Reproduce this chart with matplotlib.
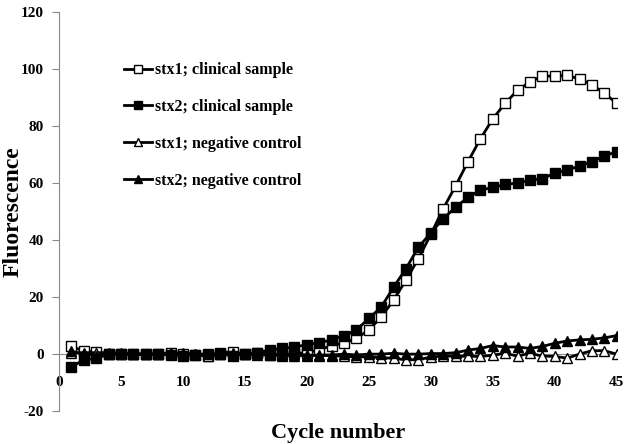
import numpy as np
import matplotlib
matplotlib.use("Agg")
import matplotlib.pyplot as plt

plt.rcParams['font.family'] = ['Liberation Serif', 'DejaVu Serif']
plt.rcParams['font.weight'] = 'bold'
plt.rcParams['axes.unicode_minus'] = False

cycles = list(range(1, 46))

stx1_clinical = [2.8, 1.0, 0.8, 0, 0, 0, 0, 0, 0.5, 0,
                 -0.3, -0.5, 0.5, 0.8, 0, 0.3, -0.3, -0.3, 0.3, 0.5,
                 1.5, 3, 4, 5.5, 8.5, 13, 19, 26, 33.5, 42,
                 51, 59, 67.5, 75.5, 82.5, 88, 92.5, 95.5, 97.5, 97.5,
                 97.8, 96.5, 94.5, 91.5, 88]
stx2_clinical = [-4.5, -2, -1.5, 0, 0, 0, 0, 0, -0.3, -0.5,
                 -0.3, 0, 0, -0.5, 0, 0.5, 1.5, 2, 2.5, 3.3,
                 4, 5, 6.5, 8.5, 12.5, 16.5, 23.5, 30, 37.5, 42.5,
                 47.5, 51.5, 55, 57.5, 58.5, 59.5, 60, 61, 61.5, 63.5,
                 64.5, 66, 67.5, 69.5, 71]
stx1_negative = [0.5, 0.5, 0.5, 0.5, 0.3, 0, 0, 0, 0.5, 0.3,
                 0, -0.8, 0, 0.3, 0, 0.5, 0, -0.2, 0, -0.3,
                 -0.5, -0.5, -0.8, -1, -1, -1.2, -1.5, -2, -2, -1,
                 -0.7, -0.7, -0.8, -0.8, -0.4, 0.3, -0.7, 0.3, -0.7, -0.8,
                 -1.4, 0, 1.2, 1.2, 0]
stx2_negative = [1, 0, -0.5, 0, 0, 0, 0, 0, 0, 0,
                 0, 0, 0, 0, 0, -0.3, -0.3, -0.5, -0.5, -0.5,
                 -0.3, -0.3, 0, -0.3, 0, 0, 0.3, 0, 0, 0.2,
                 0.2, 0.5, 1.4, 2, 3, 2.5, 2.5, 2, 2.7, 3.8,
                 4.6, 5, 5.2, 5.7, 6.5]

labels = ["stx1; clinical sample", "stx2; clinical sample",
          "stx1; negative control", "stx2; negative control"]

fig = plt.figure(figsize=(6.28, 4.44), dpi=100)
ax = fig.add_axes([0.094, 0.074, 0.888, 0.899])

ax.plot(cycles, stx1_clinical, color='black', lw=2, marker='s', ms=6.5,
        mfc='white', mec='black', mew=1, label=labels[0])
ax.plot(cycles, stx2_clinical, color='black', lw=2, marker='s', ms=6.5,
        mfc='black', mec='black', mew=1, label=labels[1])
ax.plot(cycles, stx1_negative, color='black', lw=2, marker='^', ms=6.5,
        mfc='white', mec='black', mew=1, label=labels[2])
ax.plot(cycles, stx2_negative, color='black', lw=2, marker='^', ms=6.5,
        mfc='black', mec='black', mew=1, label=labels[3])

ax.set_xlim(0, 45)
ax.set_ylim(-20, 120)
ax.set_xticks(range(0, 46, 5))
ax.set_yticks(range(-20, 121, 20))

ax.spines['top'].set_visible(False)
ax.spines['right'].set_visible(False)
ax.spines['bottom'].set_position(('data', 0))
ax.spines['bottom'].set_color('#888888')
ax.spines['left'].set_color('#888888')
ax.spines['bottom'].set_zorder(0)

ax.tick_params(axis='y', direction='out', length=5, color='#888888',
               labelsize=11, pad=6)
ax.tick_params(axis='x', length=0, labelsize=11, pad=16)
for t in ax.get_xticklabels() + ax.get_yticklabels():
    t.set_fontweight('bold')

ax.set_xlabel("Cycle number", fontsize=16, fontweight='bold')
ax.set_ylabel("Fluorescence", fontsize=17, fontweight='bold')
ax.xaxis.set_label_coords(0.5, -0.03)
ax.yaxis.set_label_coords(-0.064, 0.5)

leg = ax.legend(loc='upper left', bbox_to_anchor=(0.09, 0.91), frameon=False,
                prop={'weight': 'bold', 'size': 11.5}, handlelength=1.8,
                handletextpad=0.15, labelspacing=1.3, markerscale=0.8)

fig.savefig("out.png", dpi=100)
